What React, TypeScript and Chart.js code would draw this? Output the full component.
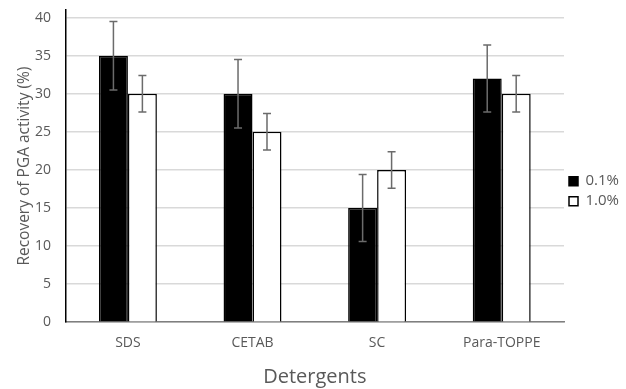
import React, { useEffect, useRef } from "react";
import { Chart, registerables } from "chart.js";

Chart.register(...registerables);

const categories = ["SDS", "CETAB", "SC", "Para-TOPPE"];
const series01 = [35, 30, 15, 32];
const series10 = [30, 25, 20, 30];
const err01 = [4.5, 4.5, 4.4, 4.4];
const err10 = [2.4, 2.4, 2.4, 2.4];
const yTicks = [0, 5, 10, 15, 20, 25, 30, 35, 40];

const FONT = "'Open Sans', 'Liberation Sans', sans-serif";
const TEXT = "#595959";

const errorBarPlugin = {
  id: "errorBars",
  afterDatasetsDraw(chart: any) {
    const ctx = chart.ctx;
    const yScale = chart.scales.y;
    const errs = [err01, err10];
    ctx.save();
    ctx.strokeStyle = "#6b6b6b";
    ctx.lineWidth = 1.5;
    chart.data.datasets.forEach((ds: any, di: number) => {
      const meta = chart.getDatasetMeta(di);
      meta.data.forEach((el: any, i: number) => {
        const v = ds.data[i];
        const e = errs[di][i];
        const x = el.x;
        const yT = yScale.getPixelForValue(v + e);
        const yB = yScale.getPixelForValue(v - e);
        ctx.beginPath();
        ctx.moveTo(x, yT);
        ctx.lineTo(x, yB);
        ctx.moveTo(x - 4, yT);
        ctx.lineTo(x + 4, yT);
        ctx.moveTo(x - 4, yB);
        ctx.lineTo(x + 4, yB);
        ctx.stroke();
      });
    });
    ctx.restore();
  },
};

export default function App() {
  const ref = useRef<HTMLCanvasElement>(null);
  useEffect(() => {
    document.body.style.margin = "0";
    const chart = new Chart(ref.current!, {
      type: "bar",
      data: {
        labels: categories,
        datasets: [
          {
            label: "0.1%",
            data: series01,
            backgroundColor: "#000000",
            borderColor: "#000000",
            borderWidth: 1.5,
            categoryPercentage: 0.465,
            barPercentage: 1,
          },
          {
            label: "1.0%",
            data: series10,
            backgroundColor: "#ffffff",
            borderColor: "#000000",
            borderWidth: 1.5,
            categoryPercentage: 0.465,
            barPercentage: 1,
          },
        ],
      },
      options: {
        animation: false,
        responsive: false,
        layout: { padding: { top: 10, right: -3, left: 11, bottom: 0 } },
        plugins: {
          legend: {
            position: "right",
            align: "center",
            fullSize: false,
            title: {
              display: true,
              text: "",
              font: { size: 1 },
              padding: { top: 24, bottom: 25 },
            },
            labels: {
              boxWidth: 9,
              boxHeight: 9,
              padding: 5,
              color: TEXT,
              font: { family: FONT, size: 15 },
            },
          },
          tooltip: { enabled: false },
        },
        scales: {
          x: {
            grid: { display: false, drawTicks: false },
            border: { display: true, color: "#7f7f7f", width: 1.5 },
            ticks: { color: TEXT, font: { family: FONT, size: 14 }, padding: 12 },
            title: {
              display: true,
              text: "Detergents",
              color: TEXT,
              font: { family: FONT, size: 20 },
              padding: { top: 2, bottom: 0 },
            },
          },
          y: {
            min: 0,
            max: 41,
            afterBuildTicks: (axis: any) => {
              axis.ticks = yTicks.map((v) => ({ value: v }));
            },
            afterFit: (axis: any) => {
              axis.paddingTop = 0;
            },
            grid: { color: "#d9d9d9", lineWidth: 1.5, drawTicks: false },
            border: { display: true, color: "#000000", width: 1.5 },
            ticks: { color: TEXT, font: { family: FONT, size: 14 }, padding: 14.5 },
            title: {
              display: true,
              text: "Recovery of PGA activity (%)",
              color: TEXT,
              font: { family: FONT, size: 15.5 },
              padding: { top: 4, bottom: -13 },
            },
          },
        },
      },
      plugins: [errorBarPlugin],
    });
    return () => chart.destroy();
  }, []);
  return <canvas ref={ref} width={626} height={389} style={{ display: "block" }} />;
}
